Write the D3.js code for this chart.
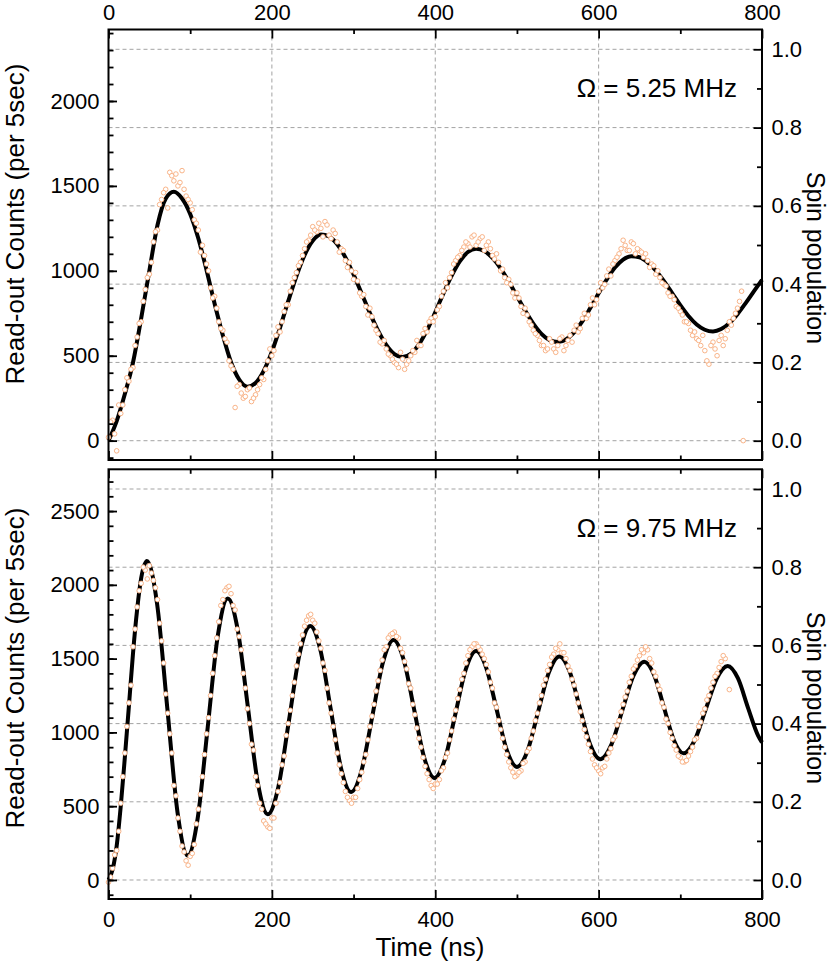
<!DOCTYPE html>
<html><head><meta charset="utf-8">
<script src="https://cdn.jsdelivr.net/npm/d3@7"></script>
<style>body{margin:0;background:#fff}svg{display:block}</style>
</head><body>
<svg id="chart" width="832" height="963"></svg>
<script>
// ---------- data ----------
const timeTicks = [0, 200, 400, 600, 800];
const spinTicks = [0, 0.2, 0.4, 0.6, 0.8, 1.0];
const topCountTicks = [0, 500, 1000, 1500, 2000];
const bottomCountTicks = [0, 500, 1000, 1500, 2000, 2500];
const topLabel = "\u03A9 = 5.25 MHz";
const bottomLabel = "\u03A9 = 9.75 MHz";

// top panel fit (Omega = 5.25 MHz)
const topFitTime = [0,10,20,30,40,50,60,70,80,90,100,110,120,130,140,150,160,170,180,190,200,210,220,230,240,250,260,270,280,290,300,310,320,330,340,350,360,370,380,390,400,410,420,430,440,450,460,470,480,490,500,510,520,530,540,550,560,570,580,590,600,610,620,630,640,650,660,670,680,690,700,710,720,730,740,750,760,770,780,790,800];
const topFitCounts = [0,115,275,460,720,1000,1270,1425,1466,1426,1335,1190,1005,805,620,462,360,318,340,411,524,666,821,968,1092,1177,1214,1203,1156,1079,978,865,751,647,564,510,492,511,567,651,756,867,970,1055,1111,1130,1116,1076,1015,937,851,766,689,629,592,581,596,638,702,783,868,950,1019,1066,1086,1080,1050,1002,939,869,798,734,684,653,643,657,692,745,810,879,947];

// top panel measured points (two interleaved read-outs)
const topDataTime = [0,5,10,15,20,25,30,35,40,45,50,55,60,65,70,75,80,85,90,95,100,105,110,115,120,125,130,135,140,145,150,155,160,165,170,175,180,185,190,195,200,205,210,215,220,225,230,235,240,245,250,255,260,265,270,275,280,285,290,295,300,305,310,315,320,325,330,335,340,345,350,355,360,365,370,375,380,385,390,395,400,405,410,415,420,425,430,435,440,445,450,455,460,465,470,475,480,485,490,495,500,505,510,515,520,525,530,535,540,545,550,555,560,565,570,575,580,585,590,595,600,605,610,615,620,625,630,635,640,645,650,655,660,665,670,675,680,685,690,695,700,705,710,715,720,725,730,735,740,745,750,755,760,765,770,775,777];
const topDataCounts = [20,120,-60,160,300,350,430,610,700,890,980,1170,1240,1420,1480,1580,1530,1500,1590,1440,1400,1300,1240,1150,1040,900,850,700,650,580,440,195,330,250,300,230,270,330,360,470,500,620,640,760,800,930,990,1050,1130,1180,1260,1230,1250,1290,1210,1240,1170,1130,1060,1050,950,940,850,790,780,680,630,570,540,500,460,430,480,450,500,520,560,630,640,720,730,790,880,900,990,1060,1090,1140,1160,1200,1150,1190,1120,1170,1090,1100,1000,960,950,870,870,790,780,700,650,620,560,530,600,540,560,610,560,620,650,640,720,720,800,800,880,900,970,970,1060,1100,1180,1120,1170,1100,1120,1080,1060,1040,980,960,920,870,850,790,760,700,690,620,600,560,530,450,580,500,620,600,700,720,780,880,0];
const topDataTime2 = [2.5,7.5,12.5,17.5,22.5,27.5,32.5,37.5,42.5,47.5,52.5,57.5,62.5,67.5,72.5,77.5,82.5,87.5,92.5,97.5,102.5,107.5,112.5,117.5,122.5,127.5,132.5,137.5,142.5,147.5,152.5,157.5,162.5,167.5,172.5,177.5,182.5,187.5,192.5,197.5,202.5,207.5,212.5,217.5,222.5,227.5,232.5,237.5,242.5,247.5,252.5,257.5,262.5,267.5,272.5,277.5,282.5,287.5,292.5,297.5,302.5,307.5,312.5,317.5,322.5,327.5,332.5,337.5,342.5,347.5,352.5,357.5,362.5,367.5,372.5,377.5,382.5,387.5,392.5,397.5,402.5,407.5,412.5,417.5,422.5,427.5,432.5,437.5,442.5,447.5,452.5,457.5,462.5,467.5,472.5,477.5,482.5,487.5,492.5,497.5,502.5,507.5,512.5,517.5,522.5,527.5,532.5,537.5,542.5,547.5,552.5,557.5,562.5,567.5,572.5,577.5,582.5,587.5,592.5,597.5,602.5,607.5,612.5,617.5,622.5,627.5,632.5,637.5,642.5,647.5,652.5,657.5,662.5,667.5,672.5,677.5,682.5,687.5,692.5,697.5,702.5,707.5,712.5,717.5,722.5,727.5,732.5,737.5,742.5,747.5,752.5,757.5,762.5,767.5,772.5];
const topDataCounts2 = [110,40,210,210,370,420,560,690,820,960,1050,1230,1390,1460,1370,1560,1570,1520,1480,1420,1360,1280,1110,1090,1000,840,780,660,600,470,420,320,280,260,310,250,300,370,420,540,530,670,700,800,880,960,1030,1090,1170,1210,1240,1280,1200,1270,1190,1220,1110,1120,1020,1000,990,870,860,740,730,650,580,590,510,480,450,520,420,470,530,590,560,660,700,700,770,850,930,960,1040,1080,1120,1170,1140,1210,1170,1200,1150,1130,1070,1050,1010,930,920,840,840,750,740,680,630,590,560,540,580,520,600,530,590,580,680,660,750,740,840,830,930,920,1010,1040,1080,1130,1150,1120,1160,1130,1110,1100,1020,1030,1000,930,910,850,830,780,740,700,650,640,590,620,470,560,540,590,560,650,680,750,820];

// bottom panel fit (Omega = 9.75 MHz)
const bottomFitTime = [0,5,10,15,20,25,30,35,40,47,59.5,72,84.5,97,109.25,121.5,133.75,146,158.25,170.5,182.75,195,208,221,234,247,259.5,272,284.5,297,310,323,336,349,361.5,374,386.5,399,411.75,424.5,437.25,450,462.5,475,487.5,500,513,526,539,552,564.5,577,589.5,602,615.5,629,642.5,656,668,680,692,704,717.5,731,744.5,758,770.5,783,795.5,800];
const bottomFitCounts = [0,70,230,500,830,1180,1536,1830,2045,2162,1870,1164,458,165,421,1037,1653,1908,1694,1177,659,445,632,1083,1534,1721,1556,1159,761,596,747,1111,1475,1626,1489,1159,828,691,817,1121,1425,1551,1436,1159,881,766,876,1141,1405,1515,1413,1167,920,818,915,1149,1382,1479,1388,1169,949,858,945,1154,1363,1450,1367,1165,975,932];

// bottom panel measured points (two interleaved read-outs)
const bottomDataTime = [0,5,10,15,20,25,30,35,40,45,50,55,60,65,70,75,80,85,90,95,100,105,110,115,120,125,130,135,140,145,150,155,160,165,170,175,180,185,190,195,200,205,210,215,220,225,230,235,240,245,250,255,260,265,270,275,280,285,290,295,300,305,310,315,320,325,330,335,340,345,350,355,360,365,370,375,380,385,390,395,400,405,410,415,420,425,430,435,440,445,450,455,460,465,470,475,480,485,490,495,500,505,510,515,520,525,530,535,540,545,550,555,560,565,570,575,580,585,590,595,600,605,610,615,620,625,630,635,640,645,650,655,660,665,670,675,680,685,690,695,700,705,710,715,720,725,730,735,740,745,750,755,760];
const bottomDataCounts = [-15,80,200,520,860,1200,1580,1850,2010,2100,2130,2030,1900,1620,1260,990,640,420,230,130,160,240,480,700,990,1250,1520,1750,1900,1980,1940,1830,1650,1400,1160,920,700,520,400,360,420,520,660,840,1060,1250,1450,1600,1720,1790,1760,1680,1570,1420,1200,1040,860,720,600,540,560,620,730,850,1040,1190,1350,1490,1580,1660,1680,1640,1540,1430,1300,1120,960,830,720,640,650,680,760,860,1010,1150,1290,1400,1520,1580,1600,1560,1500,1410,1300,1170,1020,900,800,730,710,740,800,890,1010,1130,1250,1360,1460,1530,1560,1540,1500,1420,1320,1200,1080,970,870,780,740,760,820,890,970,1080,1190,1280,1380,1450,1520,1540,1560,1470,1380,1290,1170,1060,960,880,830,800,840,900,960,1070,1160,1250,1340,1400,1480,1500,1290];
const bottomDataTime2 = [2.5,7.5,12.5,17.5,22.5,27.5,32.5,37.5,42.5,47.5,52.5,57.5,62.5,67.5,72.5,77.5,82.5,87.5,92.5,97.5,102.5,107.5,112.5,117.5,122.5,127.5,132.5,137.5,142.5,147.5,152.5,157.5,162.5,167.5,172.5,177.5,182.5,187.5,192.5,197.5,202.5,207.5,212.5,217.5,222.5,227.5,232.5,237.5,242.5,247.5,252.5,257.5,262.5,267.5,272.5,277.5,282.5,287.5,292.5,297.5,302.5,307.5,312.5,317.5,322.5,327.5,332.5,337.5,342.5,347.5,352.5,357.5,362.5,367.5,372.5,377.5,382.5,387.5,392.5,397.5,402.5,407.5,412.5,417.5,422.5,427.5,432.5,437.5,442.5,447.5,452.5,457.5,462.5,467.5,472.5,477.5,482.5,487.5,492.5,497.5,502.5,507.5,512.5,517.5,522.5,527.5,532.5,537.5,542.5,547.5,552.5,557.5,562.5,567.5,572.5,577.5,582.5,587.5,592.5,597.5,602.5,607.5,612.5,617.5,622.5,627.5,632.5,637.5,642.5,647.5,652.5,657.5,662.5,667.5,672.5,677.5,682.5,687.5,692.5,697.5,702.5,707.5,712.5,717.5,722.5,727.5,732.5,737.5,742.5,747.5,752.5];
const bottomDataCounts2 = [20,170,330,700,1040,1320,1700,1960,2120,2040,2080,1980,1740,1470,1130,860,570,330,190,100,180,380,580,850,1100,1400,1640,1860,1960,1990,1860,1700,1560,1300,1060,880,640,480,380,350,420,600,780,980,1150,1340,1530,1660,1760,1800,1740,1620,1470,1300,1130,950,780,660,560,520,560,680,800,950,1110,1280,1420,1560,1640,1670,1650,1570,1480,1330,1190,1030,900,770,680,620,650,740,830,950,1090,1230,1360,1470,1560,1600,1580,1530,1460,1340,1200,1080,960,850,760,700,730,790,870,960,1080,1200,1320,1420,1510,1570,1600,1540,1450,1360,1260,1140,1020,920,820,760,720,770,860,950,1050,1140,1240,1340,1430,1490,1560,1580,1500,1410,1320,1200,1090,1000,910,840,800,810,870,950,1040,1130,1220,1300,1380,1440,1520];

// ---------- drawing ----------
const svg = d3.select("#chart");
const FONT = "'Liberation Sans', Arial, Helvetica, sans-serif";
const left = 108.5, right = 762;
const x = d3.scaleLinear().domain([0, 800]).range([left, right]);

function zip(a, b) { return a.map((t, i) => [t, b[i]]); }

function panel(cfg) {
  const g = svg.append("g");
  const yC = d3.scaleLinear().domain(cfg.countDomain).range([cfg.bottom, cfg.top]);
  const yS = d3.scaleLinear().domain(cfg.spinDomain).range([cfg.bottom, cfg.top]);

  // grid
  const grid = g.append("g").attr("stroke", "#a3a3a3").attr("stroke-width", 1)
    .attr("stroke-dasharray", "4,3").attr("fill", "none");
  spinTicks.forEach(v => grid.append("line").attr("x1", left).attr("x2", right)
    .attr("y1", yS(v)).attr("y2", yS(v)));
  timeTicks.slice(1, -1).forEach(v => grid.append("line").attr("x1", x(v)).attr("x2", x(v))
    .attr("y1", cfg.top).attr("y2", cfg.bottom));

  // fit line
  g.append("path").datum(zip(cfg.fitT, cfg.fitC))
    .attr("fill", "none").attr("stroke", "#000").attr("stroke-width", 4)
    .attr("stroke-linejoin", "round")
    .attr("d", d3.line().x(d => x(d[0])).y(d => yC(d[1])).curve(d3.curveMonotoneX));

  // data points
  const pts = zip(cfg.dataT, cfg.dataC).concat(zip(cfg.dataT2, cfg.dataC2));
  g.append("g").selectAll("circle").data(pts).join("circle")
    .attr("cx", d => x(d[0])).attr("cy", d => yC(d[1])).attr("r", 2.3)
    .attr("fill", "#fff").attr("stroke", "#f7ab7c").attr("stroke-width", 0.9);

  // axes
  function style(ax) {
    ax.select(".domain").remove();
    ax.selectAll("line").attr("stroke", "#000").attr("stroke-width", 1.8);
    ax.selectAll("text").attr("font-size", 22).attr("font-family", FONT).attr("fill", "#000");
  }
  const minorC = d3.range(cfg.countDomain[0] < -100 ? -100 : 0, cfg.countDomain[1], 100);
  g.append("g").attr("transform", `translate(${left},0)`)
    .call(d3.axisLeft(yC).tickValues(minorC).tickSize(-5).tickFormat(""))
    .call(style);
  g.append("g").attr("transform", `translate(${left},0)`)
    .call(d3.axisLeft(yC).tickValues(cfg.countTicks).tickSize(-8.5).tickPadding(9).tickFormat(d3.format("d")))
    .call(style);
  const minorS = [0.1, 0.3, 0.5, 0.7, 0.9];
  g.append("g").attr("transform", `translate(${right},0)`)
    .call(d3.axisRight(yS).tickValues(minorS).tickSize(-5).tickFormat(""))
    .call(style);
  g.append("g").attr("transform", `translate(${right},0)`)
    .call(d3.axisRight(yS).tickValues(spinTicks).tickSize(-8.5).tickPadding(9.5).tickFormat(d3.format(".1f")))
    .call(style);
  const minorT = [100, 300, 500, 700];
  [[cfg.top, d3.axisTop, cfg.labelTop], [cfg.bottom, d3.axisBottom, !cfg.labelTop]]
    .forEach(([yy, axf, lab]) => {
      g.append("g").attr("transform", `translate(0,${yy})`)
        .call(axf(x).tickValues(minorT).tickSize(-4.5).tickFormat(""))
        .call(style);
      g.append("g").attr("transform", `translate(0,${yy})`)
        .call(axf(x).tickValues(timeTicks).tickSize(-9).tickPadding(lab && axf === d3.axisTop ? 9.5 : 12)
          .tickFormat(lab ? d3.format("d") : ""))
        .call(style);
    });

  // frame
  g.append("rect").attr("x", left).attr("y", cfg.top).attr("width", right - left)
    .attr("height", cfg.bottom - cfg.top).attr("fill", "none")
    .attr("stroke", "#000").attr("stroke-width", 2);

  // titles
  g.append("text").attr("transform", `translate(24,${cfg.leftTitleY}) rotate(-90)`)
    .attr("text-anchor", "middle").attr("font-family", FONT).attr("font-size", 26)
    .text("Read-out Counts (per 5sec)");
  g.append("text").attr("transform", `translate(807,${cfg.rightTitleY}) rotate(90)`)
    .attr("text-anchor", "middle").attr("font-family", FONT).attr("font-size", 25)
    .text("Spin population");
  g.append("text").attr("x", 737).attr("y", cfg.annY).attr("text-anchor", "end")
    .attr("font-family", FONT).attr("font-size", 26).text(cfg.label);
}

panel({
  top: 29.5, bottom: 460, countDomain: [-114, 2421], spinDomain: [-0.0493, 1.0506],
  countTicks: topCountTicks, fitT: topFitTime, fitC: topFitCounts,
  dataT: topDataTime, dataC: topDataCounts, dataT2: topDataTime2, dataC2: topDataCounts2,
  labelTop: true, leftTitleY: 224, rightTitleY: 258, annY: 97, label: topLabel
});
panel({
  top: 469.3, bottom: 899, countDomain: [-129, 2783], spinDomain: [-0.0486, 1.0504],
  countTicks: bottomCountTicks, fitT: bottomFitTime, fitC: bottomFitCounts,
  dataT: bottomDataTime, dataC: bottomDataCounts, dataT2: bottomDataTime2, dataC2: bottomDataCounts2,
  labelTop: false, leftTitleY: 668, rightTitleY: 698, annY: 537, label: bottomLabel
});

svg.append("text").attr("x", 430).attr("y", 956).attr("text-anchor", "middle")
  .attr("font-family", FONT).attr("font-size", 26).text("Time (ns)");
</script>
</body></html>
